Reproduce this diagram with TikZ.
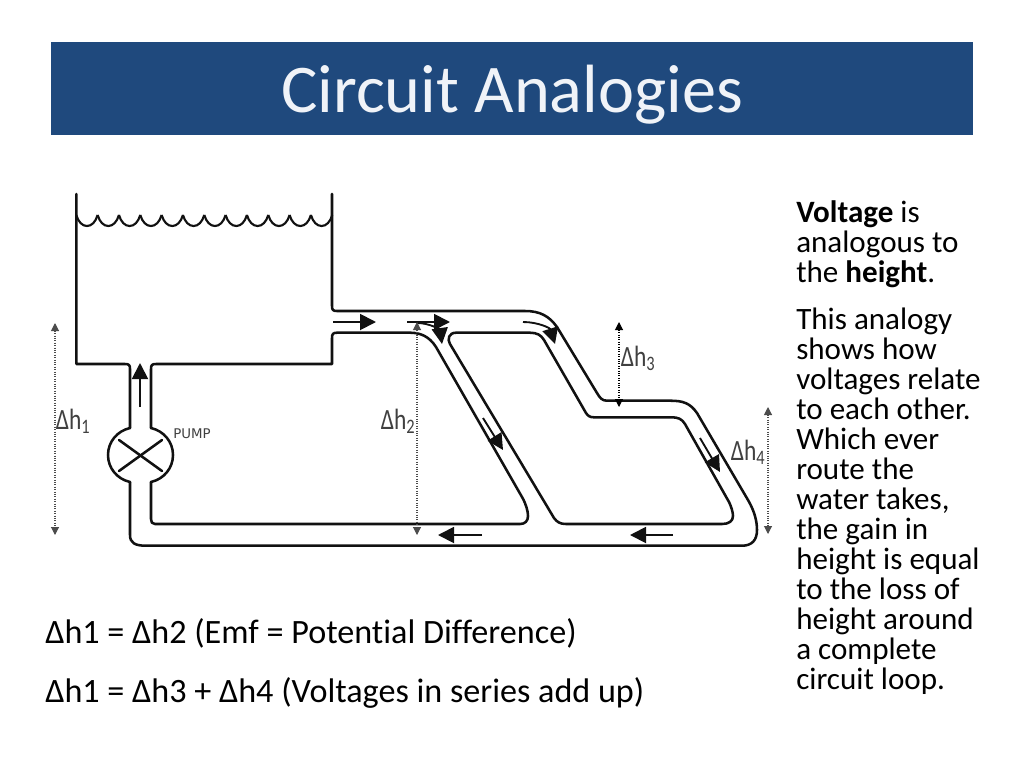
\documentclass[tikz,border=0pt]{standalone}
\usepackage{fontspec}
\setmainfont[Ligatures=NoCommon]{Carlito}
\newfontfamily\figfont{DejaVu Sans}
\usetikzlibrary{arrows.meta}
\definecolor{barblue}{HTML}{1F497D}
\definecolor{titlecol}{HTML}{F0F3F8}
\definecolor{inkcol}{HTML}{111111}
\tikzset{
  pipe/.style={line width=1.9pt,draw=inkcol,line join=round,line cap=round},
  flow/.style={line width=1.4pt,draw=inkcol,-{Triangle[length=12pt,width=12pt]}},
  dimline/.style={line width=0.8pt,densely dotted,draw=#1,{Triangle[length=6pt,width=6pt,fill=#1]}-{Triangle[length=6pt,width=6pt,fill=#1]}},
  dimlabel/.style={font=\fontsize{22}{22}\selectfont,text=black!75,inner sep=0pt,anchor=center},
  bodytext/.style={font=\fontsize{23.3}{22.5}\selectfont,text=black,inner sep=0pt,anchor=north west,align=left},
  eqtext/.style={font=\fontsize{25.6}{30}\selectfont,text=black,inner sep=0pt,anchor=base west}
}
\newcommand{\dimtext}[1]{\scalebox{0.8}[1]{Δh\textsubscript{#1}}}
\begin{document}
\begin{tikzpicture}[x=0.75pt,y=-0.75pt]
\useasboundingbox (0,0) rectangle (1024,768);
\fill[white] (0,0) rectangle (1024,768);
\node[fill=barblue,minimum width=691.5pt,minimum height=69.75pt,inner sep=0pt,anchor=north west] (bar) at (51,42) {};
\node[font=\fontsize{51.2}{54}\selectfont,text=titlecol,inner sep=0pt,anchor=base] (title) at (512,112.5) {Circuit Analogies};

% tank, outer pipe
\draw[pipe] (332,194) -- (332,306) .. controls (332,310) and (333,311) .. (337,311) -- (525,311)
  .. controls (540,311) and (549,316) .. (557,327) -- (597,393)
  .. controls (600,398) and (602,400.7) .. (607,400.7) -- (670,400.7)
  .. controls (683,400.7) and (690,403) .. (697,413) -- (748,500)
  .. controls (755,512) and (757,522) .. (757,530)
  .. controls (757,540) and (752,545.7) .. (742,545.7) -- (146,545.7)
  .. controls (135,545.7) and (130,543) .. (130,535) -- (130,482);
% tank left and pump inlet
\draw[pipe] (76.3,194) -- (76.3,364) -- (125,364) .. controls (129,364) and (130,365) .. (130,369) -- (130,428);
% pump body
\draw[pipe] (130,428) .. controls (117,431) and (108,442) .. (108,455) .. controls (108,468) and (117,479) .. (130,482);
\draw[pipe] (151,428) .. controls (164,431) and (173,442) .. (173,455) .. controls (173,468) and (164,479) .. (151,482);
\draw[pipe] (119,440) -- (162,471);
\draw[pipe] (119,471) -- (162,440);
% inner upper/lower wall
\draw[pipe] (151,428) -- (151,369) .. controls (151,365) and (152,364) .. (156,364) -- (332,364) -- (332,338)
  .. controls (332,334) and (333,332.7) .. (337,332.7) -- (410,332.7)
  .. controls (420,332.7) and (429,336) .. (436,347) -- (522,497)
  .. controls (526,504) and (528,511) .. (528,516)
  .. controls (528,521) and (525,524) .. (520,524) -- (155,524)
  .. controls (152,524) and (151,522) .. (151,519) -- (151,482);
% inner loop
\draw[pipe] (456,332.7) -- (530,332.7) .. controls (537,332.7) and (541,335) .. (544,340) -- (586,413)
  .. controls (588,416) and (590,417.3) .. (594,417.3) -- (672,417.3)
  .. controls (678,417.3) and (682,419) .. (685,424) -- (729,502)
  .. controls (731,506) and (733,512) .. (733,516)
  .. controls (733,521) and (729,524) .. (722,524) -- (566,524)
  .. controls (560,524) and (557,522) .. (554,518) -- (450,344)
  .. controls (447,339) and (449,332.7) .. (456,332.7) -- cycle;
% water surface
\foreach \i in {0,...,11}{
  \draw[line width=1.6pt,draw=inkcol] ({76.3+\i*21.33},215) .. controls ({76.3+\i*21.33+2},222) and ({76.3+\i*21.33+6},226) .. ({76.3+\i*21.33+10.67},226)
    .. controls ({76.3+\i*21.33+15.3},226) and ({76.3+\i*21.33+19.3},222) .. ({76.3+\i*21.33+21.33},215);
}
% flow arrows
\coordinate (f1a) at (140,407); \coordinate (f1b) at (140,363);
\coordinate (f2a) at (333,322); \coordinate (f2b) at (376,322);
\coordinate (f3a) at (407,322); \coordinate (f3b) at (450,322);
\coordinate (f4a) at (417,323); \coordinate (f4b) at (442,344);
\coordinate (f5a) at (523,322); \coordinate (f5b) at (555,344);
\coordinate (f6a) at (483,418); \coordinate (f6b) at (503,450);
\coordinate (f7a) at (482,535); \coordinate (f7b) at (438,535);
\coordinate (f8a) at (673,535); \coordinate (f8b) at (630,535);
\coordinate (f9a) at (700,438); \coordinate (f9b) at (720,472);
\draw[flow] (f1a) -- (f1b);
\draw[flow] (f2a) -- (f2b);
\draw[flow] (f3a) -- (f3b);
\draw[flow] (f4a) .. controls (430,323) and (440,330) .. (f4b);
\draw[flow] (f5a) .. controls (538,322) and (550,328) .. (f5b);
\draw[flow] (f6a) -- (f6b);
\draw[flow] (f7a) -- (f7b);
\draw[flow] (f8a) -- (f8b);
\draw[flow] (f9a) -- (f9b);
% height markers
\coordinate (h1a) at (55,323); \coordinate (h1b) at (55,535);
\coordinate (h2a) at (417,322); \coordinate (h2b) at (417,535);
\coordinate (h3a) at (619,322); \coordinate (h3b) at (619,407);
\coordinate (h4a) at (768,407); \coordinate (h4b) at (768,534);
\draw[dimline=black!70] (h1a) -- (h1b);
\draw[dimline=black!70] (h2a) -- (h2b);
\draw[dimline=black] (h3a) -- (h3b);
\draw[dimline=black!70] (h4a) -- (h4b);
\node[dimlabel] (l1) at (73,421) {\dimtext{1}};
\node[dimlabel] (l2) at (398,421) {\dimtext{2}};
\node[dimlabel] (l3) at (638,358) {\dimtext{3}};
\node[dimlabel] (l4) at (748,452) {\dimtext{4}};
\node[font=\figfont\fontsize{10}{10}\selectfont,text=black!75,inner sep=0pt] (pumplabel) at (192,434) {PUMP};

% text
\node[bodytext] (body) at (796,200) {\textbf{Voltage} is\\analogous to\\the \textbf{height}.};
\node[bodytext] (body2) at (796,308) {This analogy\\shows how\\voltages relate\\to each other.\\Which ever\\route the\\water takes,\\the gain in\\height is equal\\to the loss of\\height around\\a complete\\circuit loop.};
\node[eqtext] (eq1) at (45,643) {Δh1 = Δh2 (Emf = Potential Difference)};
\node[eqtext] (eq2) at (45,702) {Δh1 = Δh3 + Δh4 (Voltages in series add up)};
\end{tikzpicture}
\end{document}
